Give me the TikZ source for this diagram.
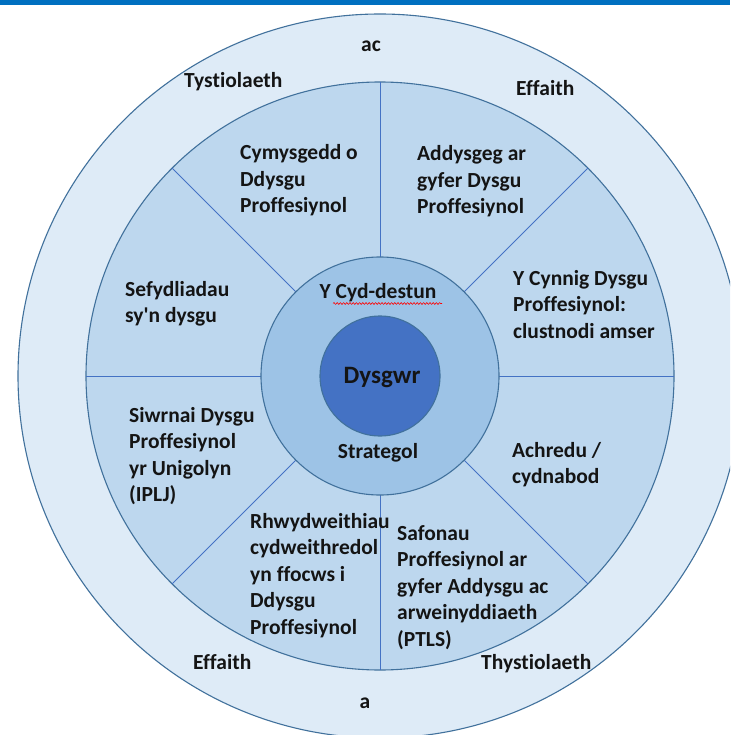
\documentclass[tikz,border=0pt]{standalone}
\usepackage{fontspec}
\setmainfont{Carlito}[Ligatures={NoCommon}]
\usetikzlibrary{decorations.pathmorphing}
\definecolor{barblue}{HTML}{0070C0}
\definecolor{ringpale}{HTML}{DEEBF7}
\definecolor{segfill}{HTML}{BDD7EE}
\definecolor{innerfill}{HTML}{9DC3E6}
\definecolor{corefill}{HTML}{4472C4}
\definecolor{edgeblue}{HTML}{41719C}
\definecolor{divblue}{HTML}{4472C4}
\newcommand{\blk}[1]{\begin{tabular}[t]{@{}l@{}}#1\end{tabular}}
\begin{document}
\begin{tikzpicture}[x=1pt,y=-1pt,
  txt/.style={inner sep=0pt, text=black!92, font=\fontsize{21.5}{26.5}\selectfont\bfseries},
  seg/.style={txt, anchor=base west},
  ringlbl/.style={txt, anchor=base west},
  ctr/.style={txt, anchor=base},
  circ/.style={draw=edgeblue, line width=1.1pt},
  divider/.style={draw=divblue, line width=0.9pt}]
\useasboundingbox (0,0) rectangle (730,735);
\clip (0,0) rectangle (730,735);
\fill[white] (0,0) rectangle (730,735);
\coordinate (c) at (380,376);
% rings
\path[circ, fill=ringpale] (c) circle[radius=362];
\path[circ, fill=segfill] (c) circle[radius=294];
\foreach \a in {0,45,...,315}
  \draw[divider, shift={(c)}] (\a:100) -- (\a:294);
\path[circ, fill=innerfill] (c) circle[radius=119];
\path[circ, fill=corefill] (c) circle[radius=60];
\fill[barblue] (0,0) rectangle (730,5);
% outer ring labels
\node[ctr] (ac) at (371,52) {ac};
\node[ringlbl] (tyst1) at (184,88) {Tystiolaeth};
\node[ringlbl] (eff1) at (516,96) {Effaith};
\node[ringlbl] (eff2) at (193,669) {Effaith};
\node[ringlbl] (tyst2) at (481,669) {Thystiolaeth};
\node[ctr] (a) at (365,708) {a};
% segments
\node[seg] (s1) at (240,160) {\blk{Cymysgedd o\\Ddysgu\\Proffesiynol}};
\node[seg] (s2) at (417,161) {\blk{Addysgeg ar\\gyfer Dysgu\\Proffesiynol}};
\node[seg] (s3) at (513,285) {\blk{Y Cynnig Dysgu\\Proffesiynol:\\clustnodi amser}};
\node[seg] (s4) at (512,457) {\blk{Achredu /\\cydnabod}};
\node[seg] (s5) at (397,540) {\blk{Safonau\\Proffesiynol ar\\gyfer Addysgu ac\\arweinyddiaeth\\(PTLS)}};
\node[seg] (s6) at (250,528) {\blk{Rhwydweithiau\\cydweithredol\\yn ffocws i\\Ddysgu\\Proffesiynol}};
\node[seg] (s7) at (129,422) {\blk{Siwrnai Dysgu\\Proffesiynol\\yr Unigolyn\\(IPLJ)}};
\node[seg] (s8) at (125,296) {\blk{Sefydliadau\\sy\textquotesingle n dysgu}};
% centre
\node[ctr] (cyd) at (378,298) {Y Cyd-destun};
\draw[red, line width=0.6pt, decorate, decoration={snake, amplitude=0.9pt, segment length=3.2pt}]
  (333,303.5) -- (442,303.5);
\node[ctr] (strat) at (378,458) {Strategol};
\node[ctr, font=\fontsize{25}{30}\selectfont\bfseries] (dys) at (382,383) {Dysgwr};
\end{tikzpicture}
\end{document}
